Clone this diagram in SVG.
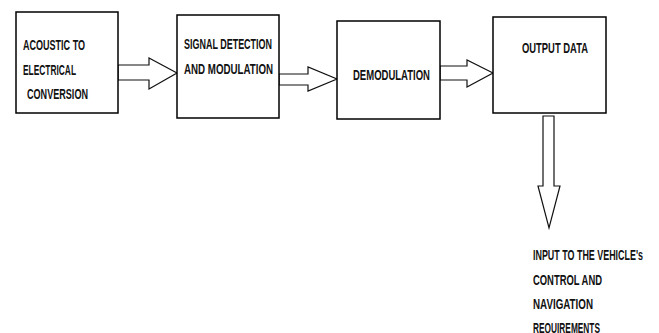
<svg xmlns="http://www.w3.org/2000/svg" width="659" height="333" viewBox="0 0 659 333">
<style>
.box{fill:#fff;stroke:#000;stroke-width:1.5}
.arr{fill:#fff;stroke:#111;stroke-width:1.2;stroke-linejoin:miter}
text{font-family:"Liberation Sans",Arial,sans-serif;font-weight:bold;font-size:15.5px;fill:#111}
</style>
<rect width="659" height="333" fill="#fff"/>
<g id="connectors">
<polygon class="arr" points="118,65 149,65 149,58 177,73 149,89 149,80 118,80"/>
<polygon class="arr" points="279,74 308,74 308,67 337,79 308,91 308,85 279,85"/>
<polygon class="arr" points="440,66 467,66 467,60 493,73 467,87 467,80 440,80"/>
<polygon class="arr" points="543,116 554,116 554,186 560,186 549,228 538,186 543,186"/>
</g>
<g id="n1">
<rect class="box" x="16" y="12" width="102" height="101"/>
<text x="23" y="50" textLength="62" lengthAdjust="spacingAndGlyphs">ACOUSTIC TO</text>
<text x="23" y="75" textLength="53" lengthAdjust="spacingAndGlyphs">ELECTRICAL</text>
<text x="27" y="99" textLength="61" lengthAdjust="spacingAndGlyphs">CONVERSION</text>
</g>
<g id="n2">
<rect class="box" x="177" y="15" width="102" height="103"/>
<text x="184" y="49" textLength="88" lengthAdjust="spacingAndGlyphs">SIGNAL DETECTION</text>
<text x="184" y="74" textLength="89" lengthAdjust="spacingAndGlyphs">AND MODULATION</text>
</g>
<g id="n3">
<rect class="box" x="337" y="21" width="103" height="98"/>
<text x="353" y="80" textLength="77" lengthAdjust="spacingAndGlyphs">DEMODULATION</text>
</g>
<g id="n4">
<rect class="box" x="493" y="17" width="113" height="96"/>
<text x="522" y="53" textLength="66" lengthAdjust="spacingAndGlyphs">OUTPUT DATA</text>
</g>
<g id="n5">
<text x="533" y="260" textLength="110" lengthAdjust="spacingAndGlyphs">INPUT TO THE VEHICLE's</text>
<text x="533" y="285" textLength="69" lengthAdjust="spacingAndGlyphs">CONTROL AND</text>
<text x="533" y="309" textLength="60" lengthAdjust="spacingAndGlyphs">NAVIGATION</text>
<text x="533" y="333" textLength="67" lengthAdjust="spacingAndGlyphs">REQUIREMENTS</text>
</g>
</svg>
